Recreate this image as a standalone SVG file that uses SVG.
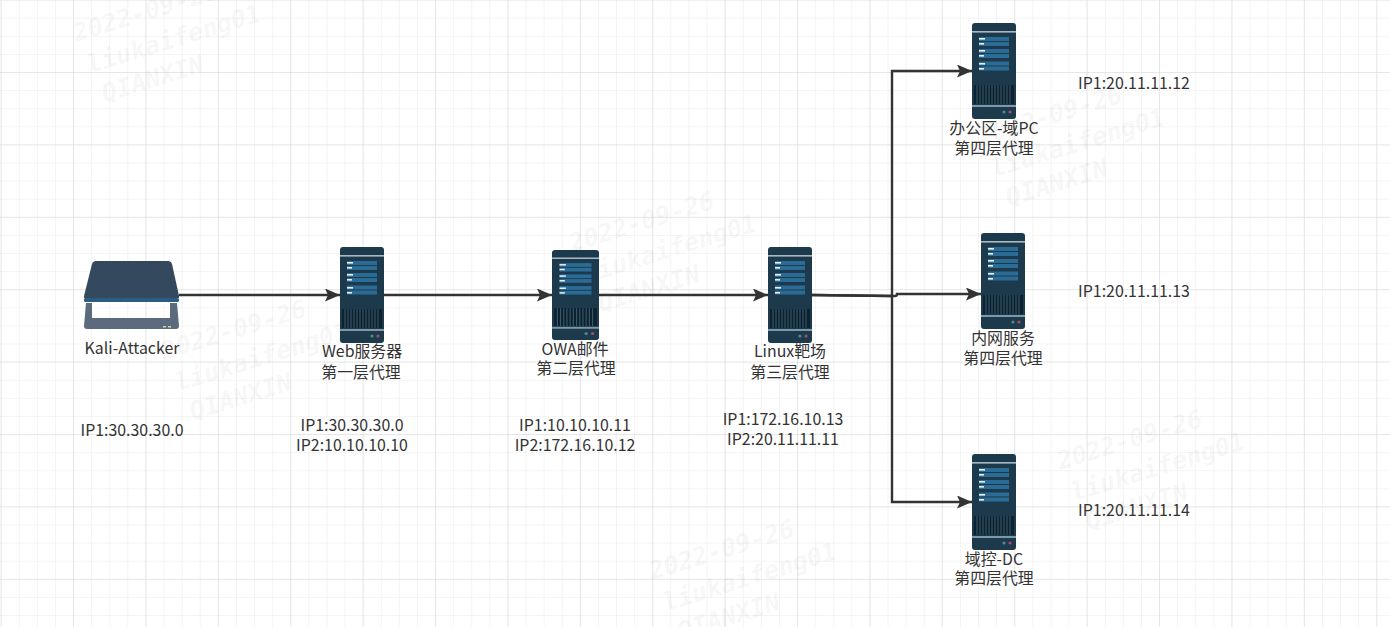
<svg xmlns="http://www.w3.org/2000/svg" width="1390" height="627" viewBox="0 0 1390 627">
<style>
.t{font-family:"Noto Sans CJK SC","Noto Sans",sans-serif;font-size:15.9px;fill:#333;text-anchor:middle}
.wm{font-family:"DejaVu Sans Mono","Liberation Mono",monospace;font-size:25px;font-weight:bold;font-style:italic;fill:#000;fill-opacity:.05}
.c{fill:none;stroke:#333;stroke-width:2.4}
</style>
<defs>
<pattern id="minor" width="18.1" height="18.1" patternUnits="userSpaceOnUse" x="1.6" y="0.6"><path d="M18.1 0V18.1M0 18.1H18.1" fill="none" stroke="#e9e9e9" stroke-width="1"/></pattern>
<pattern id="major" width="72.4" height="72.4" patternUnits="userSpaceOnUse" x="1.6" y="0.6"><path d="M72.4 0V72.4M0 72.4H72.4" fill="none" stroke="#d9d9d9" stroke-width="1"/></pattern>
<marker id="a" markerUnits="userSpaceOnUse" markerWidth="16" markerHeight="14" refX="15" refY="6.5" orient="auto"><path d="M0 0L15 6.5L0 13L3 6.5Z" fill="#333"/></marker>
<symbol id="srv" viewBox="0 0 44 96" preserveAspectRatio="none">
<rect x="0" y="0" width="44" height="96" rx="3" fill="#1d3a4d"/>
<rect x="0" y="8" width="44" height="1.6" fill="#a9b9c4"/>
<rect x="0" y="82" width="44" height="2" fill="#7f98a8"/>
<g fill="#2a6c96">
<rect x="7" y="14" width="30" height="4"/><rect x="7" y="19" width="30" height="4"/>
<rect x="7" y="26" width="30" height="4"/><rect x="7" y="31" width="30" height="4"/>
<rect x="7" y="38.5" width="30" height="4"/><rect x="7" y="43.5" width="30" height="4"/>
</g>
<g fill="#e8eef2">
<rect x="7" y="15" width="6" height="1.6"/><rect x="7" y="20" width="5" height="1.6"/>
<rect x="7" y="27" width="6" height="1.6"/><rect x="7" y="32" width="5" height="1.6"/>
<rect x="7" y="40" width="6" height="1.6"/><rect x="7" y="45" width="5" height="1.6"/>
</g>
<rect x="2" y="62" width="40" height="19" fill="#0d2230"/>
<path d="M5 62V81M8 62V81M11 62V81M14 62V81M17 62V81M20 62V81M23 62V81M26 62V81M29 62V81M32 62V81M35 62V81M38 62V81" stroke="#3c5a6c" stroke-width="1"/>
<circle cx="32" cy="89" r="1.6" fill="#4f8a8b"/>
<circle cx="38" cy="89" r="1.6" fill="#a0506e"/>
</symbol>
</defs>
<rect width="1390" height="627" fill="#fff"/>
<rect width="1390" height="627" fill="url(#minor)"/>
<rect width="1390" height="627" fill="url(#major)"/>

<g id="watermarks" class="wm">
<g transform="translate(76,42) rotate(-17)"><text>2022-09-26</text><text x="4" y="34">liukaifeng01</text><text x="10" y="66">QIANXIN</text></g>
<g transform="translate(164,360) rotate(-17)"><text>2022-09-26</text><text x="4" y="34">liukaifeng01</text><text x="10" y="66">QIANXIN</text></g>
<g transform="translate(572,252) rotate(-17)"><text>2022-09-26</text><text x="4" y="34">liukaifeng01</text><text x="10" y="66">QIANXIN</text></g>
<g transform="translate(980,146) rotate(-17)"><text>2022-09-26</text><text x="4" y="34">liukaifeng01</text><text x="10" y="66">QIANXIN</text></g>
<g transform="translate(1060,470) rotate(-17)"><text>2022-09-26</text><text x="4" y="34">liukaifeng01</text><text x="10" y="66">QIANXIN</text></g>
<g transform="translate(652,580) rotate(-17)"><text>2022-09-26</text><text x="4" y="34">liukaifeng01</text><text x="10" y="66">QIANXIN</text></g>
</g>

<g id="connectors">
<path class="c" marker-end="url(#a)" d="M179 295H340"/>
<path class="c" marker-end="url(#a)" d="M383 295H552"/>
<path class="c" marker-end="url(#a)" d="M599 295H768"/>
<path class="c" marker-end="url(#a)" d="M812 295L892 296V71H972"/>
<path class="c" marker-end="url(#a)" d="M812 295L892 296H895Q897 296 897 294H981"/>
<path class="c" marker-end="url(#a)" d="M892 296V502H972"/>
</g>

<g id="kali">
<path d="M96 261H168Q171 261 172 264L179 296V298H84V296L92 264Q93 261 96 261Z" fill="#34495e"/>
<rect x="84" y="298" width="95" height="4" rx="1.5" fill="#2b5c86"/>
<path d="M86 303H92L92 318H170V303H177L179 326Q179 329 176 329H87Q84 329 84 326Z" fill="#5b6b7d"/>
<rect x="163" y="326" width="3" height="1.5" fill="#c8d8a0"/><rect x="168" y="326" width="3" height="1.5" fill="#c8d8a0"/>
<text class="t" x="132" y="354">Kali-Attacker</text>
<text class="t" x="132" y="436">IP1:30.30.30.0</text>
</g>
<g id="web">
<use href="#srv" x="340" y="247" width="44" height="96"/>
<text class="t" x="362" y="357">Web服务器</text><text class="t" x="361" y="378">第一层代理</text>
<text class="t" x="352" y="431">IP1:30.30.30.0</text><text class="t" x="352" y="451">IP2:10.10.10.10</text>
</g>
<g id="owa">
<use href="#srv" x="552" y="250" width="47" height="90"/>
<text class="t" x="575" y="355">OWA邮件</text><text class="t" x="576" y="374">第二层代理</text>
<text class="t" x="575" y="431">IP1:10.10.10.11</text><text class="t" x="575" y="451">IP2:172.16.10.12</text>
</g>
<g id="linux">
<use href="#srv" x="768" y="247" width="44" height="96"/>
<text class="t" x="790" y="357">Linux靶场</text><text class="t" x="790" y="378">第三层代理</text>
<text class="t" x="783" y="425">IP1:172.16.10.13</text><text class="t" x="783" y="445">IP2:20.11.11.11</text>
</g>
<g id="pc">
<use href="#srv" x="972" y="23" width="44" height="96"/>
<text class="t" x="994" y="134">办公区-域PC</text><text class="t" x="994" y="154">第四层代理</text>
<text class="t" x="1134" y="89">IP1:20.11.11.12</text>
</g>
<g id="intranet">
<use href="#srv" x="981" y="233" width="44" height="96"/>
<text class="t" x="1003" y="344">内网服务</text><text class="t" x="1003" y="364">第四层代理</text>
<text class="t" x="1134" y="297">IP1:20.11.11.13</text>
</g>
<g id="dc">
<use href="#srv" x="972" y="454" width="44" height="96"/>
<text class="t" x="994" y="565">域控-DC</text><text class="t" x="994" y="584">第四层代理</text>
<text class="t" x="1134" y="516">IP1:20.11.11.14</text>
</g>
</svg>
